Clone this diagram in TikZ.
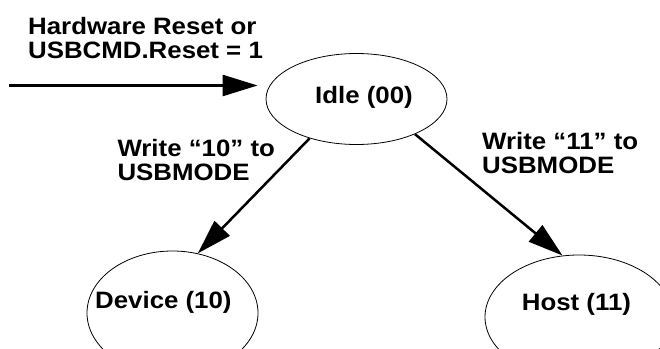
\documentclass[tikz,border=0pt]{standalone}
\usepackage{fontspec}
\setmainfont{Liberation Sans}[FakeStretch=1.09]
\usetikzlibrary{shapes.geometric,arrows.meta}
\tikzset{
  state/.style={draw, ellipse, line width=0.8pt, inner sep=0pt},
  lbl/.style={font=\bfseries\fontsize{23.7}{23.6}\selectfont, inner sep=0pt, align=left},
  conn/.style={line width=2.5pt, -{Triangle[length=35pt,width=21pt]}},
}
\begin{document}
\begin{tikzpicture}[x=1pt,y=-1pt]
\clip (0,0) rectangle (660,348);
\node[state, minimum width=181pt, minimum height=91pt] (idle) at (356.5,99) {};
\node[state, minimum width=171pt, minimum height=124pt] (device) at (172.5,313) {};
\node[state, minimum width=188pt, minimum height=124pt] (host) at (579,317) {};
\node[lbl, anchor=base west] (idletext) at (315,103) {Idle (00)};
\node[lbl, anchor=base west] (devicetext) at (95,308) {Device (10)};
\node[lbl, anchor=base west] (hosttext) at (521.7,310.7) {Host (11)};
\node[lbl, anchor=base west] (resetlbl) at (28,58.3) {Hardware Reset or\\USBCMD.Reset = 1};
\node[lbl, anchor=base west] (dlbl) at (117.3,180) {Write “10” to\\USBMODE};
\node[lbl, anchor=base west] (hlbl) at (482,173.3) {Write “11” to\\USBMODE};
\coordinate (instart) at (9,85.5);
\draw[conn, shorten >=8pt] (instart) -- (instart -| idle.west);
\draw[conn] (idle.220.4) -- (device.67.8);
\draw[conn] (idle.329) -- (host.105.6);
\end{tikzpicture}
\end{document}
